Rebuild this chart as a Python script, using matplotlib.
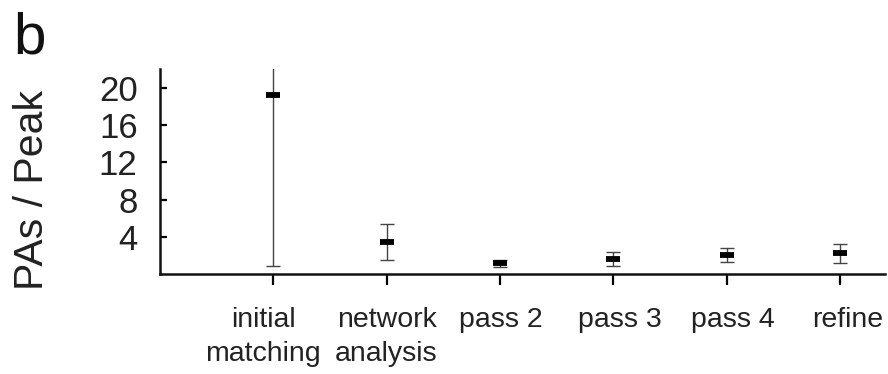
import matplotlib
matplotlib.use("Agg")
import matplotlib.pyplot as plt
import matplotlib.transforms as mtransforms
import numpy as np

plt.rcParams['font.family'] = ['Liberation Sans', 'DejaVu Sans']

# mean PAs per peak and spread for each stage of the pipeline
stages = ["initial\nmatching", "network\nanalysis", "pass 2", "pass 3", "pass 4", "refine"]
means = [19.2, 3.46, 1.15, 1.62, 2.05, 2.22]
errs = [18.3, 1.92, 0.35, 0.72, 0.8, 1.05]
yticks = [4, 8, 12, 16, 20]

fig = plt.figure(figsize=(8.88, 3.74), dpi=100)
ax = fig.add_axes([0.180, 0.267, 0.817, 0.548])

pos = np.arange(1, len(stages) + 1)
ax.errorbar(pos, means, yerr=errs, fmt='none', ecolor='#444444', elinewidth=1.0,
            capsize=4.7, capthick=1.0)
ax.plot(pos, means, linestyle='none', marker='_', markersize=9.6, markeredgewidth=4.2,
        color='black')

ax.set_xlim(0, 6.4)
ax.set_ylim(0, 22)
ax.set_yticks(yticks)
ax.set_xticks(pos)
ax.set_xticklabels(stages, fontsize=20.5, color='#222222', linespacing=1.4)
ax.tick_params(axis='y', direction='in', length=5, width=1.6, pad=16,
               labelsize=25, labelcolor='#222222')
ax.tick_params(axis='x', direction='out', length=8, width=1.6, pad=16)

# labels sit a little off their ticks
nudge_px = [-10, 0, 1, 7, 6, 8]
for lab, dx in zip(ax.get_xticklabels(), nudge_px):
    lab.set_transform(lab.get_transform() +
                      mtransforms.ScaledTranslation(dx / 100, 0, fig.dpi_scale_trans))

for s in ['top', 'right']:
    ax.spines[s].set_visible(False)
for s in ['left', 'bottom']:
    ax.spines[s].set_linewidth(1.8)
    ax.spines[s].set_color('#111111')

fig.text(0.036, 0.492, "PAs / Peak", rotation=90, fontsize=29.5, color='#222222',
         ha='center', va='center')
fig.text(0.015, 1 - 54 / 374, "b", fontsize=42, color='#111111', va='baseline')

fig.savefig("out.png", dpi=100)
